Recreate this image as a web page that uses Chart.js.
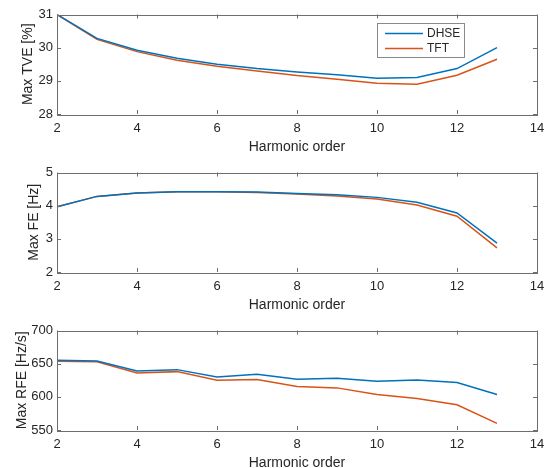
<!DOCTYPE html>
<html>
<head>
<meta charset="utf-8">
<script src="https://cdn.jsdelivr.net/npm/chart.js@4/dist/chart.umd.min.js"></script>
<style>
  html, body { margin: 0; padding: 0; background: #fff; overflow: hidden; }
  body { width: 554px; height: 468px; position: relative; }
  .panel { position: absolute; left: 0; width: 554px; height: 160px; }
</style>
</head>
<body>
<div class="panel" style="top:0px"><canvas id="tve"></canvas></div>
<div class="panel" style="top:158px"><canvas id="fe"></canvas></div>
<div class="panel" style="top:315.5px"><canvas id="rfe"></canvas></div>
<script>
// harmonic orders on the x axis
const harmonics = [2, 3, 4, 5, 6, 7, 8, 9, 10, 11, 12, 13];

// max TVE [%]
const tveDHSE = [31.0, 30.28, 29.92, 29.68, 29.5, 29.37, 29.27, 29.18, 29.08, 29.1, 29.37, 30.0];
const tveTFT = [31.0, 30.25, 29.88, 29.62, 29.44, 29.3, 29.16, 29.05, 28.93, 28.9, 29.17, 29.65];

// max FE [Hz]
const feDHSE = [3.97, 4.28, 4.38, 4.42, 4.42, 4.41, 4.37, 4.33, 4.25, 4.1, 3.78, 2.87];
const feTFT = [3.97, 4.28, 4.38, 4.42, 4.42, 4.40, 4.35, 4.29, 4.2, 4.02, 3.68, 2.73];

// max RFE [Hz/s]
const rfeDHSE = [655, 654, 639, 641, 630, 634, 626.5, 628, 623.5, 625.5, 621.5, 603.5];
const rfeTFT = [653.5, 653, 636, 638, 625, 626, 615.5, 613.5, 603.5, 597.5, 588, 560];

const seriesNames = ['DHSE', 'TFT'];
const seriesColors = ['#0072BD', '#D95319'];

const textColor = '#262626';
const axisColor = '#6e6e6e';
const fontFamily = '"Liberation Sans", Arial, Helvetica, sans-serif';

// box around the plot with inward ticks on all four sides (matlab style)
const boxPlugin = {
    id: 'box',
    afterDraw(chart) {
        const { ctx, chartArea: a, scales } = chart;
        ctx.save();
        ctx.strokeStyle = axisColor;
        ctx.lineWidth = 1;
        ctx.strokeRect(Math.round(a.left) + 0.5, Math.round(a.top) + 0.5,
            Math.round(a.right - a.left), Math.round(a.bottom - a.top));
        const len = 4;
        ctx.beginPath();
        scales.x.ticks.forEach(t => {
            const px = Math.round(scales.x.getPixelForValue(t.value)) + 0.5;
            ctx.moveTo(px, a.bottom); ctx.lineTo(px, a.bottom - len);
            ctx.moveTo(px, a.top); ctx.lineTo(px, a.top + len);
        });
        scales.y.ticks.forEach(t => {
            const py = Math.round(scales.y.getPixelForValue(t.value)) + 0.5;
            ctx.moveTo(a.left, py); ctx.lineTo(a.left + len, py);
            ctx.moveTo(a.right, py); ctx.lineTo(a.right - len, py);
        });
        ctx.stroke();

        // legend box, only on the first panel
        if (chart.options.plugins.box && chart.options.plugins.box.legend) {
            const x0 = a.left + 320, y0 = a.top + 8.5, w = 87, h = 34;
            ctx.fillStyle = '#fff';
            ctx.fillRect(x0, y0, w, h);
            ctx.strokeStyle = '#8a8a8a';
            ctx.strokeRect(Math.round(x0) + 0.5, Math.round(y0) + 0.5, w, h);
            ctx.font = '12px ' + fontFamily;
            ctx.textBaseline = 'middle';
            chart.data.datasets.forEach((ds, i) => {
                const ly = y0 + 10.5 + i * 15;
                ctx.strokeStyle = ds.borderColor;
                ctx.lineWidth = 1.5;
                ctx.beginPath();
                ctx.moveTo(x0 + 8, ly);
                ctx.lineTo(x0 + 46, ly);
                ctx.stroke();
                ctx.fillStyle = textColor;
                ctx.fillText(ds.label, x0 + 50, ly);
            });
        }
        ctx.restore();
    }
};

function makeChart(id, dhse, tft, yMin, yMax, yStep, yTitle, leftPad, showLegend) {
    const yWidth = 57 - leftPad;
    return new Chart(document.getElementById(id), {
        type: 'line',
        data: {
            labels: harmonics,
            datasets: [
                { label: seriesNames[0], data: harmonics.map((h, i) => ({ x: h, y: dhse[i] })),
                  borderColor: seriesColors[0], borderWidth: 1.5, pointRadius: 0, fill: false },
                { label: seriesNames[1], data: harmonics.map((h, i) => ({ x: h, y: tft[i] })),
                  borderColor: seriesColors[1], borderWidth: 1.5, pointRadius: 0, fill: false }
            ]
        },
        options: {
            responsive: true,
            maintainAspectRatio: false,
            animation: false,
            events: [],
            layout: { padding: { top: 14.5, bottom: 4, left: leftPad, right: 17 } },
            plugins: {
                legend: { display: false },
                tooltip: { enabled: false },
                box: { legend: showLegend }
            },
            scales: {
                x: {
                    type: 'linear',
                    min: 2, max: 14,
                    grid: { display: false, drawTicks: false },
                    border: { display: false },
                    ticks: { stepSize: 2, padding: 7, color: textColor, maxRotation: 0,
                             font: { family: fontFamily, size: 13 } },
                    title: { display: true, text: 'Harmonic order', color: textColor, padding: 0,
                             font: { family: fontFamily, size: 14 } },
                    afterFit(scale) { scale.height = 42; }
                },
                y: {
                    min: yMin, max: yMax,
                    grid: { display: false, drawTicks: false },
                    border: { display: false },
                    ticks: { stepSize: yStep, padding: 4, color: textColor,
                             font: { family: fontFamily, size: 13 } },
                    title: { display: true, text: yTitle, color: textColor, padding: 0,
                             font: { family: fontFamily, size: 14 } },
                    afterFit(scale) { scale.width = yWidth; }
                }
            }
        },
        plugins: [boxPlugin]
    });
}

makeChart('tve', tveDHSE, tveTFT, 28, 31, 1, 'Max TVE [%]', 19.6, true);
makeChart('fe', feDHSE, feTFT, 2, 5, 1, 'Max FE [Hz]', 26, false);
makeChart('rfe', rfeDHSE, rfeTFT, 550, 700, 50, 'Max RFE [Hz/s]', 13.4, false);
</script>
</body>
</html>
